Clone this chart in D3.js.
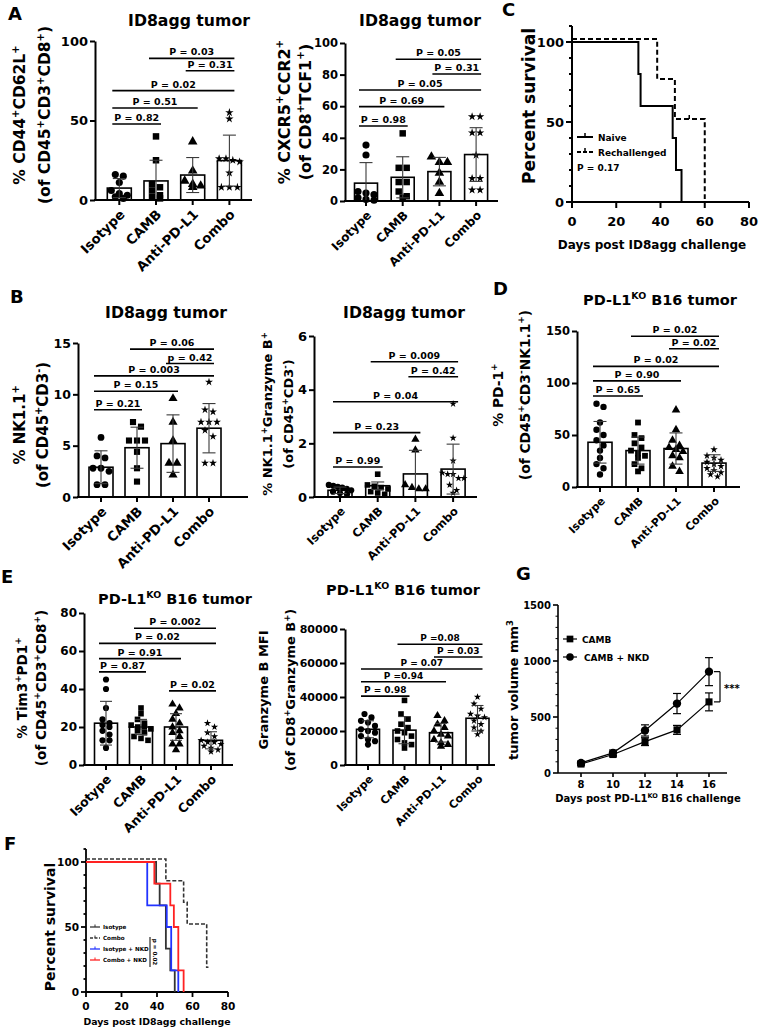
<!DOCTYPE html>
<html><head><meta charset="utf-8">
<script src="https://cdn.jsdelivr.net/npm/d3@7"></script>
<style>
body{margin:0;background:#fff;}
svg{display:block;}
text{font-family:"DejaVu Sans",sans-serif;font-weight:bold;fill:#000;}
</style></head><body>
<svg id="fig" width="760" height="1029"></svg>
<script>
// ================= DATA =================
const groups = ["Isotype","CAMB","Anti-PD-L1","Combo"];

// A left: % CD44+CD62L+
const aL_mean = [7.5, 12, 15.7, 24.8];
const aL_sd   = [6, 13, 11, 16];
const aL_pts  = [[16,15,11,6,4,3,2,1],[40,25,10,8,6,3,2,1],[36.7,18.4,12,10,9,8],[55,51,26,26,25,24,17,8,8,8]];
const aL_pFrom=[0,0,0,2,1], aL_pTo=[1,2,3,3,3];
const aL_pText=["P = 0.82","P = 0.51","P = 0.02","P = 0.31","P = 0.03"];
const aL_pY=[47.8,57.9,68.8,81.3,89.1];
const aL_ticks=[0,50,100];

// A right: % CXCR5+CCR2+
const aR_mean = [11.3, 15, 18.6, 29.4];
const aR_sd   = [13, 13, 9, 17];
const aR_pts  = [[35.4,29.1,6,5,4,2,1,0.5],[42.8,21,21,12,12,6,3,2],[28,24.5,24.5,17.7,12,4.9],[53.4,53.4,43.2,43.2,29,14.3,14.3,7,7]];
const aR_pFrom=[0,0,0,2,1], aR_pTo=[1,2,3,3,3];
const aR_pText=["P = 0.98","P = 0.69","P = 0.05","P = 0.31","P = 0.05"];
const aR_pY=[47.5,59.7,70.3,80.4,89.7];
const aR_ticks=[0,20,40,60,80,100];

// B left: % NK1.1+
const bL_mean = [2.9, 4.8, 5.2, 6.7];
const bL_sd   = [1.6, 2.0, 2.8, 2.4];
const bL_pts  = [[5.8,4.0,3.8,2.8,2.8,2.5,1.2,1.2],[7.3,6.85,5.5,5.5,5.5,4.4,2.8,1.5],[9.6,7.3,5.5,3.3,3.3,2.15],[11.2,8.5,8.3,7.3,7.3,7.3,6.5,5.9,3.3,3.3]];
const bL_pFrom=[0,0,0,2,1], bL_pTo=[1,2,3,3,3];
const bL_pText=["P = 0.21","P = 0.15","P = 0.003","p = 0.42","P = 0.06"];
const bL_pY=[8.5,10.3,11.8,13.0,14.4];
const bL_ticks=[0,5,10,15];

// B right: % NK1.1+Granzyme B+
const bR_mean = [0.25, 0.42, 0.86, 1.04];
const bR_sd   = [0.12, 0.14, 0.88, 0.93];
const bR_pts  = [[0.45,0.42,0.38,0.35,0.3,0.25,0.2,0.15,0.1],[0.85,0.45,0.4,0.35,0.3,0.2,0.15,0.1],[2.15,1.75,0.45,0.35,0.3,0.3],[3.47,2.2,1.35,0.9,0.85,0.85,0.7,0.7,0.45,0.25,0.15]];
const bR_pFrom=[0,0,0,2,1], bR_pTo=[1,2,3,3,3];
const bR_pText=["P = 0.99","P = 0.23","P = 0.04","P = 0.42","P = 0.009"];
const bR_pY=[1.12,2.4,3.55,4.48,5.04];
const bR_ticks=[0,2,4,6];

// D: % PD-1+
const d_mean = [43, 35, 37, 23];
const d_sd   = [20, 13, 15, 8];
const d_pts  = [[80,77,62,55,50,45,40,35,28,22,18,12],[62,50,47,42,38,35,32,30,28,22,18,15],[74,55,45,40,38,36,34,30,28,20,15],[36,30,28,26,24,22,20,18,16,14,12,10]];
const d_pFrom=[0,0,0,2,1], d_pTo=[1,2,3,3,3];
const d_pText=["P = 0.65","P = 0.90","P = 0.02","P = 0.02","P = 0.02"];
const d_pY=[87.5,102,116,133,145];
const d_ticks=[0,50,100,150];

// E left: % Tim3+PD1+
const eL_mean = [22, 20, 20, 13];
const eL_sd   = [11.5, 4, 7, 4.5];
const eL_pts  = [[45,40,30,24,22,21,20,18,16,13,13,9],[30,27,24,22,21,20,20,19,18,17,15,14,13],[32,30,27,24,22,20,18,17,15,11,11,8],[22,20,17,15,13,12,12,11,10,9,8,7]];
const eL_pFrom=[0,0,0,1,2], eL_pTo=[1,2,3,3,3];
const eL_pText=["P = 0.87","P = 0.91","P = 0.02","P = 0.002","P = 0.02"];
const eL_pY=[49,56,64,72,39];
const eL_ticks=[0,20,40,60,80];

// E right: Granzyme B MFI
const eR_mean = [21000, 20500, 19000, 27500];
const eR_sd   = [5000, 8000, 5500, 7500];
const eR_pts  = [[30000,28000,26000,25000,23000,21000,20000,19000,17000,15000,14000,12000],[38000,30000,27000,24000,22000,20000,19000,17000,15000,13000,12000,10000],[29000,26000,24000,22000,20000,18000,17000,15000,13000,12000,11000],[40000,36000,33000,30000,29000,28000,26000,24000,22000,20000,18000]];
const eR_pFrom=[0,0,0,2,1], eR_pTo=[1,2,3,3,3];
const eR_pText=["P = 0.98","P =0.94","P = 0.07","P = 0.03","P =0.08"];
const eR_pY=[40500,49000,56500,63500,71000];
const eR_ticks=[0,20000,40000,60000,80000];

// C: survival
const c_naiveDays=[0,30,31,45.5,47,49.5], c_naiveSurv=[100,80,60,40,20,0];
const c_reDays=[0,38.5,46.5,60], c_reSurv=[100,75,50,0];

// F: survival
const f_isoDays=[0,39.5,41.5,45,47.5,50], f_isoSurv=[100,83.3,66.7,33.3,16.7,0];
const f_comboDays=[0,45,55,57,68,69], f_comboSurv=[100,83.3,66.7,50,16.7,16.7];
const f_isoNkdDays=[0,34.5,45.5,48,52], f_isoNkdSurv=[100,66.7,50,16.7,0];
const f_comboNkdDays=[0,38.5,47.5,49.5,52,55], f_comboNkdSurv=[100,83.3,66.7,50,16.7,0];

// G: tumor growth
const g_days=[8,10,12,14,16];
const g_camb=[80,165,280,385,635], g_cambErr=[15,20,35,40,80];
const g_nkd=[90,180,380,620,905], g_nkdErr=[15,25,50,90,125];

// ================= DRAW =================
const svg = d3.select("#fig");
const symTypes=[d3.symbolCircle,d3.symbolSquare,d3.symbolTriangle,d3.symbolStar];
const symSizes=[40,42,40,22];

function rich(sel, str, fs){
  const parts = str.split(/(\^\{[^}]*\}|\^.)/).filter(s=>s.length);
  let raised=false;
  parts.forEach(p=>{
    if(p[0]==='^'){
      const t = p[1]==='{' ? p.slice(2,-1) : p.slice(1);
      sel.append('tspan').attr('dy', raised?0:-fs*0.42).attr('font-size', fs*0.65).text(t);
      raised=true;
    } else {
      sel.append('tspan').attr('dy', raised?fs*0.42:0).attr('font-size', fs).text(p);
      raised=false;
    }
  });
}

function jitter(vals, y, sz, bw){
  const idx = vals.map((v,i)=>i).sort((a,b)=>vals[b]-vals[a]);
  const rows=[];
  idx.forEach(i=>{
    const py=y(vals[i]);
    let r=rows.find(r=>Math.abs(r.py-py)<sz*0.9);
    if(!r){r={py,m:[]};rows.push(r);}
    r.m.push(i);
  });
  const off=new Array(vals.length).fill(0);
  rows.forEach(r=>{
    const n=r.m.length;
    const sp=Math.min(sz+1,(bw+2)/Math.max(1,n-1+0.8));
    r.m.forEach((i,k)=>off[i]=(k-(n-1)/2)*sp);
  });
  return off;
}

function barPanel(L, D){
  const g = svg.append('g');
  const x = d3.scalePoint().domain(groups).range([L.c0, L.c0+3*L.step]);
  const y = d3.scaleLinear().domain([0,L.yMax]).range([L.y0,L.yTop]);
  g.append('g').selectAll('rect').data(groups).join('rect')
    .attr('x',c=>x(c)-L.bw/2).attr('y',(c,i)=>y(D.mean[i]))
    .attr('width',L.bw).attr('height',(c,i)=>L.y0-y(D.mean[i]))
    .attr('fill','#fff').attr('stroke','#000').attr('stroke-width',1.6);
  groups.forEach((c,i)=>{
    const off = jitter(D.pts[i], y, L.ps, L.bw);
    g.append('g').selectAll('path').data(D.pts[i]).join('path')
      .attr('transform',(v,k)=>`translate(${x(c)+off[k]},${y(v)})`)
      .attr('d', d3.symbol(symTypes[i], symSizes[i]*L.ms)).attr('fill','#000');
  });
  const eb = g.append('g').attr('stroke','#3a3a3a').attr('stroke-width',1.1);
  groups.forEach((c,i)=>{
    const m=D.mean[i], s=D.sd[i], cx=x(c);
    const hi=y(m+s), lo=y(Math.max(0,m-s));
    eb.append('line').attr('x1',cx).attr('x2',cx).attr('y1',hi).attr('y2',lo);
    eb.append('line').attr('x1',cx-L.cap/2).attr('x2',cx+L.cap/2).attr('y1',hi).attr('y2',hi);
    if(m-s>0) eb.append('line').attr('x1',cx-L.cap/2).attr('x2',cx+L.cap/2).attr('y1',lo).attr('y2',lo);
  });
  const ax = d3.axisLeft(y).tickValues(L.ticks).tickSize(5).tickSizeOuter(0).tickPadding(2).tickFormat(d3.format('d'));
  const gy = g.append('g').attr('transform',`translate(${L.x0},0)`).call(ax).attr('font-size',L.tickFs);
  gy.select('.domain').attr('stroke','#000').attr('stroke-width',2);
  gy.selectAll('.tick line').attr('stroke','#000').attr('stroke-width',2);
  g.append('line').attr('x1',L.x0-1).attr('x2',L.x1).attr('y1',L.y0).attr('y2',L.y0).attr('stroke','#000').attr('stroke-width',2);
  g.append('g').selectAll('line').data(groups).join('line')
    .attr('x1',c=>x(c)).attr('x2',c=>x(c)).attr('y1',L.y0).attr('y2',L.y0+5).attr('stroke','#000').attr('stroke-width',2);
  g.append('g').selectAll('text').data(groups).join('text')
    .attr('transform',c=>`translate(${x(c)+3},${L.y0+12}) rotate(-45)`)
    .attr('text-anchor','end').attr('dy','0.35em').attr('font-size',L.catFs).text(c=>c);
  D.pText.forEach((t,k)=>{
    const xa=x(groups[D.pFrom[k]])-7, xb=x(groups[D.pTo[k]])+5, yy=y(D.pY[k]);
    g.append('line').attr('x1',xa).attr('x2',xb).attr('y1',yy).attr('y2',yy).attr('stroke','#000').attr('stroke-width',1.6);
    g.append('text').attr('x',(xa+xb)/2).attr('y',yy-3).attr('text-anchor','middle').attr('font-size',L.pFs).text(t);
  });
  const tt=g.append('text').attr('x',L.tx).attr('y',L.ty).attr('text-anchor','middle');
  rich(tt, L.title, L.tFs);
  [[L.lab1,L.b1],[L.lab2,L.b2]].forEach(([s,b])=>{
    const t=g.append('text').attr('transform',`translate(${b},${L.cy}) rotate(-90)`).attr('text-anchor','middle');
    rich(t,s,L.labFs);
  });
}

barPanel({x0:95,x1:252,c0:119.3,step:36.7,y0:200,yTop:41,yMax:100,bw:24,cap:13,ps:7,ms:1,ticks:aL_ticks,tickFs:13,catFs:13.3,pFs:9.5,
  title:"ID8agg tumor",tx:189,ty:26,tFs:15.7,lab1:"% CD44^+CD62L^+",lab2:"(of CD45^+CD3^+CD8^+)",b1:25,b2:50,cy:115,labFs:15.5},
  {mean:aL_mean,sd:aL_sd,pts:aL_pts,pFrom:aL_pFrom,pTo:aL_pTo,pText:aL_pText,pY:aL_pY});
barPanel({x0:345,x1:498,c0:366,step:36.7,y0:201,yTop:43,yMax:100,bw:23,cap:13,ps:7,ms:1,ticks:aR_ticks,tickFs:11.5,catFs:12,pFs:9.5,
  title:"ID8agg tumor",tx:420,ty:26,tFs:15.7,lab1:"% CXCR5^+CCR2^+",lab2:"(of CD8^+TCF1^+)",b1:290,b2:311,cy:112,labFs:16},
  {mean:aR_mean,sd:aR_sd,pts:aR_pts,pFrom:aR_pFrom,pTo:aR_pTo,pText:aR_pText,pY:aR_pY});
barPanel({x0:78,x1:248,c0:101,step:36,y0:497,yTop:343,yMax:15,bw:24,cap:13,ps:7,ms:0.9,ticks:bL_ticks,tickFs:12.5,catFs:13.3,pFs:9.5,
  title:"ID8agg tumor",tx:166,ty:318,tFs:15.7,lab1:"% NK1.1^+",lab2:"(of CD45^+CD3^-)",b1:25,b2:48,cy:425,labFs:15},
  {mean:bL_mean,sd:bL_sd,pts:bL_pts,pFrom:bL_pFrom,pTo:bL_pTo,pText:bL_pText,pY:bL_pY});
barPanel({x0:314,x1:477,c0:340,step:37.7,y0:497,yTop:336,yMax:6,bw:24,cap:13,ps:6,ms:0.75,ticks:bR_ticks,tickFs:13,catFs:11.5,pFs:9.5,
  title:"ID8agg tumor",tx:404,ty:318,tFs:15.7,lab1:"% NK1.1^+Granzyme B^+",lab2:"(of CD45^+CD3^-)",b1:272,b2:293,cy:414,labFs:13},
  {mean:bR_mean,sd:bR_sd,pts:bR_pts,pFrom:bR_pFrom,pTo:bR_pTo,pText:bR_pText,pY:bR_pY});
barPanel({x0:577,x1:740,c0:600,step:38,y0:487,yTop:331,yMax:150,bw:24,cap:13,ps:6,ms:0.8,ticks:d_ticks,tickFs:11.5,catFs:11,pFs:9.5,
  title:"PD-L1^{KO} B16 tumor",tx:660,ty:305,tFs:14.5,lab1:"% PD-1^+",lab2:"(of CD45^+CD3^-NK1.1^+)",b1:503,b2:530,cy:395,labFs:13.8},
  {mean:d_mean,sd:d_sd,pts:d_pts,pFrom:d_pFrom,pTo:d_pTo,pText:d_pText,pY:d_pY});
barPanel({x0:84,x1:233,c0:106,step:35,y0:765,yTop:613,yMax:80,bw:23,cap:12,ps:6,ms:0.75,ticks:eL_ticks,tickFs:12,catFs:12.5,pFs:9.5,
  title:"PD-L1^{KO} B16 tumor",tx:175,ty:604,tFs:14.5,lab1:"% Tim3^+PD1^+",lab2:"(of CD45^+CD3^+CD8^+)",b1:27,b2:46,cy:688,labFs:13.6},
  {mean:eL_mean,sd:eL_sd,pts:eL_pts,pFrom:eL_pFrom,pTo:eL_pTo,pText:eL_pText,pY:eL_pY});
barPanel({x0:345,x1:495,c0:368,step:36.5,y0:765,yTop:629,yMax:80000,bw:23,cap:12,ps:6,ms:0.75,ticks:eR_ticks,tickFs:11,catFs:11,pFs:9,
  title:"PD-L1^{KO} B16 tumor",tx:403,ty:595,tFs:14.5,lab1:"Granzyme B MFI",lab2:"(of CD8^+Granzyme B^+)",b1:268,b2:295,cy:690,labFs:13},
  {mean:eR_mean,sd:eR_sd,pts:eR_pts,pFrom:eR_pFrom,pTo:eR_pTo,pText:eR_pText,pY:eR_pY});

// ---------- survival helper ----------
function survAxes(g,x,y,o){
  const st={stroke:'#000','stroke-width':o.sw};
  const ln=(x1,y1,x2,y2)=>{const l=g.append('line').attr('x1',x1).attr('y1',y1).attr('x2',x2).attr('y2',y2);Object.entries(st).forEach(([k,v])=>l.attr(k,v));};
  ln(x(0),y(0),x(0),y(110));
  d3.range(0,111,10).forEach(v=>{const maj=v%50===0; ln(x(0)-(maj?o.maj:o.min),y(v),x(0),y(v));});
  [0,50,100].forEach(v=>g.append('text').attr('x',x(0)-o.maj-2).attr('y',y(v)).attr('dy','0.36em').attr('text-anchor','end').attr('font-size',o.tfs).text(v));
  ln(x(0),y(0),x(80),y(0));
  d3.range(0,81,20).forEach(v=>{ln(x(v),y(0),x(v),y(0)+o.maj);
    g.append('text').attr('x',x(v)).attr('y',o.xly).attr('text-anchor','middle').attr('font-size',o.tfs).text(v);});
  g.append('text').attr('x',o.xlx).attr('y',o.xlb).attr('text-anchor','middle').attr('font-size',o.xlfs).text(o.xlab);
  g.append('text').attr('transform',`translate(${o.ylb},${o.yly}) rotate(-90)`).attr('text-anchor','middle').attr('font-size',o.ylfs).text('Percent survival');
}
function stepPath(g,x,y,days,surv,style){
  const pts=days.map((d,i)=>[d,surv[i]]);
  const line=d3.line().x(d=>x(d[0])).y(d=>y(d[1])).curve(d3.curveStepAfter);
  g.append('path').attr('d',line(pts)).attr('fill','none').attr('stroke',style.c).attr('stroke-width',style.w)
    .attr('stroke-dasharray',style.dash||null).attr('transform',`translate(0,${style.off||0})`);
}

// ---------- C ----------
{
  const g=svg.append('g');
  const x=d3.scaleLinear().domain([0,80]).range([572,749]);
  const y=d3.scaleLinear().domain([0,100]).range([202,42]);
  survAxes(g,x,y,{sw:2,maj:6,min:3,tfs:13,xly:226,xlx:652,xlb:249,xlfs:12,xlab:'Days post ID8agg challenge',ylb:535,yly:106,ylfs:17});
  stepPath(g,x,y,c_naiveDays,c_naiveSurv,{c:'#000',w:2});
  stepPath(g,x,y,c_reDays,c_reSurv,{c:'#000',w:2,dash:'5,3',off:-3});
  g.append('line').attr('x1',x(53)).attr('x2',x(53)).attr('y1',y(50)-3).attr('y2',y(50)-7).attr('stroke','#000').attr('stroke-width',1.5);
  const leg=[['Naive',null,137],['Rechallenged','4,2',152]];
  leg.forEach(([t,dash,yy])=>{
    g.append('line').attr('x1',577).attr('x2',593).attr('y1',yy).attr('y2',yy).attr('stroke','#000').attr('stroke-width',2).attr('stroke-dasharray',dash);
    g.append('line').attr('x1',585).attr('x2',585).attr('y1',yy).attr('y2',yy-4).attr('stroke','#000').attr('stroke-width',1.5);
    g.append('text').attr('x',598).attr('y',yy+3.5).attr('font-size',9).text(t);
  });
  g.append('text').attr('x',577).attr('y',171).attr('font-size',9).text('P = 0.17');
}

// ---------- F ----------
{
  const g=svg.append('g');
  const x=d3.scaleLinear().domain([0,80]).range([86,228]);
  const y=d3.scaleLinear().domain([0,100]).range([992,862]);
  survAxes(g,x,y,{sw:1.8,maj:5,min:2.5,tfs:10.5,xly:1010,xlx:157,xlb:1025,xlfs:9.4,xlab:'Days post ID8agg challenge',ylb:55,yly:927,ylfs:14});
  stepPath(g,x,y,f_isoDays,f_isoSurv,{c:'#333',w:1.8});
  stepPath(g,x,y,f_comboDays,f_comboSurv,{c:'#333',w:1.6,dash:'4,2',off:-3});
  stepPath(g,x,y,f_isoNkdDays,f_isoNkdSurv,{c:'#2233ff',w:1.8});
  stepPath(g,x,y,f_comboNkdDays,f_comboNkdSurv,{c:'#ff2222',w:1.8});
  const leg=[['Isotype','#333',null,927],['Combo','#333','3,1.5',938],['Isotype + NKD','#2233ff',null,949],['Combo + NKD','#ff2222',null,960]];
  leg.forEach(([t,c,dash,yy])=>{
    g.append('line').attr('x1',90).attr('x2',100).attr('y1',yy).attr('y2',yy).attr('stroke',c).attr('stroke-width',1.3).attr('stroke-dasharray',dash);
    g.append('line').attr('x1',95).attr('x2',95).attr('y1',yy).attr('y2',yy-2.5).attr('stroke',c).attr('stroke-width',1);
    g.append('text').attr('x',103).attr('y',yy+2).attr('font-size',5.6).attr('font-weight','normal').text(t);
  });
  g.append('line').attr('x1',150).attr('x2',150).attr('y1',937).attr('y2',967).attr('stroke','#000').attr('stroke-width',1);
  g.append('text').attr('transform','translate(153,952) rotate(90)').attr('text-anchor','middle').attr('font-size',5.6).attr('font-weight','normal').text('p = 0.02');
}

// ---------- G ----------
{
  const g=svg.append('g');
  const x=d3.scaleLinear().domain([8,16]).range([581,709]);
  const y=d3.scaleLinear().domain([0,1500]).range([773,605]);
  const L=(x1,y1,x2,y2,w)=>g.append('line').attr('x1',x1).attr('y1',y1).attr('x2',x2).attr('y2',y2).attr('stroke','#000').attr('stroke-width',w||1.6);
  L(558,y(0),558,y(1500));
  d3.range(0,1501,100).forEach(v=>{const maj=v%500===0; L(558-(maj?5:2.5),y(v),558,y(v),maj?1.6:1);});
  [0,500,1000,1500].forEach(v=>g.append('text').attr('x',551).attr('y',y(v)).attr('dy','0.36em').attr('text-anchor','end').attr('font-size',10).text(v));
  L(558,y(0),727,y(0));
  g_days.forEach(d=>{L(x(d),y(0),x(d),y(0)+4);
    g.append('text').attr('x',x(d)).attr('y',788).attr('text-anchor','middle').attr('font-size',10).text(d);});
  const xl=g.append('text').attr('x',648).attr('y',802).attr('text-anchor','middle');
  rich(xl,'Days post PD-L1^{KO} B16 challenge',10);
  const yl=g.append('text').attr('transform','translate(518,690) rotate(-90)').attr('text-anchor','middle');
  rich(yl,'tumor volume mm^3',13);
  const line=d3.line().x((d,i)=>x(g_days[i])).y(d=>y(d));
  [[g_camb,g_cambErr,d3.symbolSquare],[g_nkd,g_nkdErr,d3.symbolCircle]].forEach(([vals,err,sym])=>{
    g.append('path').attr('d',line(vals)).attr('fill','none').attr('stroke','#000').attr('stroke-width',1.2);
    vals.forEach((v,i)=>{
      const cx=x(g_days[i]);
      L(cx,y(v+err[i]),cx,y(v-err[i]),1.2);
      L(cx-4,y(v+err[i]),cx+4,y(v+err[i]),1.2);
      L(cx-4,y(v-err[i]),cx+4,y(v-err[i]),1.2);
    });
    g.append('g').selectAll('path').data(vals).join('path')
      .attr('transform',(v,i)=>`translate(${x(g_days[i])},${y(v)})`)
      .attr('d',d3.symbol(sym,sym===d3.symbolSquare?50:55)).attr('fill','#000');
  });
  const last=g_days.length-1;
  const yt=y(g_nkd[last]), yb=y(g_camb[last]);
  L(720,yt,720,yb,1.2); L(714,yt,720,yt,1.2); L(714,yb,720,yb,1.2);
  g.append('text').attr('x',724).attr('y',(yt+yb)/2+5).attr('font-size',10).text('***');
  [[d3.symbolSquare,'CAMB',639,582],[d3.symbolCircle,'CAMB + NKD',657,584]].forEach(([sym,t,yy,tx])=>{
    L(563,yy,577,yy,1.2);
    g.append('path').attr('transform',`translate(570,${yy})`).attr('d',d3.symbol(sym,45)()).attr('fill','#000');
    g.append('text').attr('x',tx).attr('y',yy+3.5).attr('font-size',9).text(t);
  });
}

// ---------- panel letters ----------
[['A',8,20],['B',10,303],['C',502,16],['D',493,295],['E',1,583],['F',4,850],['G',516,580]].forEach(([t,x,y])=>{
  svg.append('text').attr('x',x).attr('y',y).attr('font-size',18).text(t);
});
</script>
</body></html>
